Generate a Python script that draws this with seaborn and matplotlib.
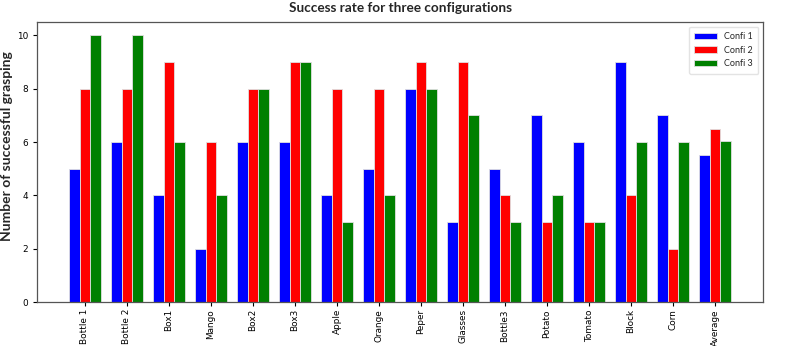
import matplotlib
matplotlib.use("Agg")
import matplotlib.pyplot as plt
import seaborn as sns
import pandas as pd

categories = ["Bottle 1", "Bottle 2", "Box1", "Mango", "Box2", "Box3", "Apple", "Orange",
              "Peper", "Glasses", "Bottle3", "Potato", "Tomato", "Block", "Corn", "Average"]
confi1 = [5, 6, 4, 2, 6, 6, 4, 5, 8, 3, 5, 7, 6, 9, 7, 5.53]
confi2 = [8, 8, 9, 6, 8, 9, 8, 8, 9, 9, 4, 3, 3, 4, 2, 6.5]
confi3 = [10, 10, 6, 4, 8, 9, 3, 4, 8, 7, 3, 4, 3, 6, 6, 6.03]
series_names = ["Confi 1", "Confi 2", "Confi 3"]
colors = ["#0000ff", "#ff0000", "#008000"]

rows = []
for name, vals in zip(series_names, [confi1, confi2, confi3]):
    for c, v in zip(categories, vals):
        rows.append({"cat": c, "val": v, "series": name})
df = pd.DataFrame(rows)

sns.set_style("white")
fig = plt.figure(figsize=(7.89, 3.46), dpi=100)
ax = fig.add_axes([0.047, 0.127, 0.92, 0.809])
sns.barplot(data=df, x="cat", y="val", hue="series", order=categories,
            hue_order=series_names, palette=colors, width=0.75,
            edgecolor="#e0e0e0", linewidth=0.6, saturation=1, ax=ax, errorbar=None)

ax.set_xlim(-1.14, 16.14)
ax.set_ylim(0, 10.5)
ax.set_yticks([0, 2, 4, 6, 8, 10])
ax.set_xlabel("")
ax.set_ylabel("Number of successful grasping", fontsize=10, fontweight="bold",
              family=["Lato", "DejaVu Sans"])
ax.yaxis.set_label_coords(-0.033, 0.557)
ax.set_title("Success rate for three configurations", fontsize=9.8, fontweight="bold",
             family=["Lato", "DejaVu Sans"], pad=7)
ax.tick_params(axis="x", rotation=90, labelsize=6.4, length=3, width=0.8, colors="black", pad=2)
ax.tick_params(axis="y", labelsize=6.4, length=3, width=0.8, colors="black")
ax.tick_params(axis="both", which="both", bottom=True, left=True)
for s in ax.spines.values():
    s.set_color("#555555")
    s.set_linewidth(0.9)

leg = ax.legend(loc="upper right", frameon=True, handlelength=2.5,
                borderpad=0.6, labelspacing=0.5,
                prop={"family": ["Lato", "DejaVu Sans"], "size": 6.5})
leg.get_frame().set_edgecolor("#dddddd")

fig.savefig("out.png", dpi=100)
